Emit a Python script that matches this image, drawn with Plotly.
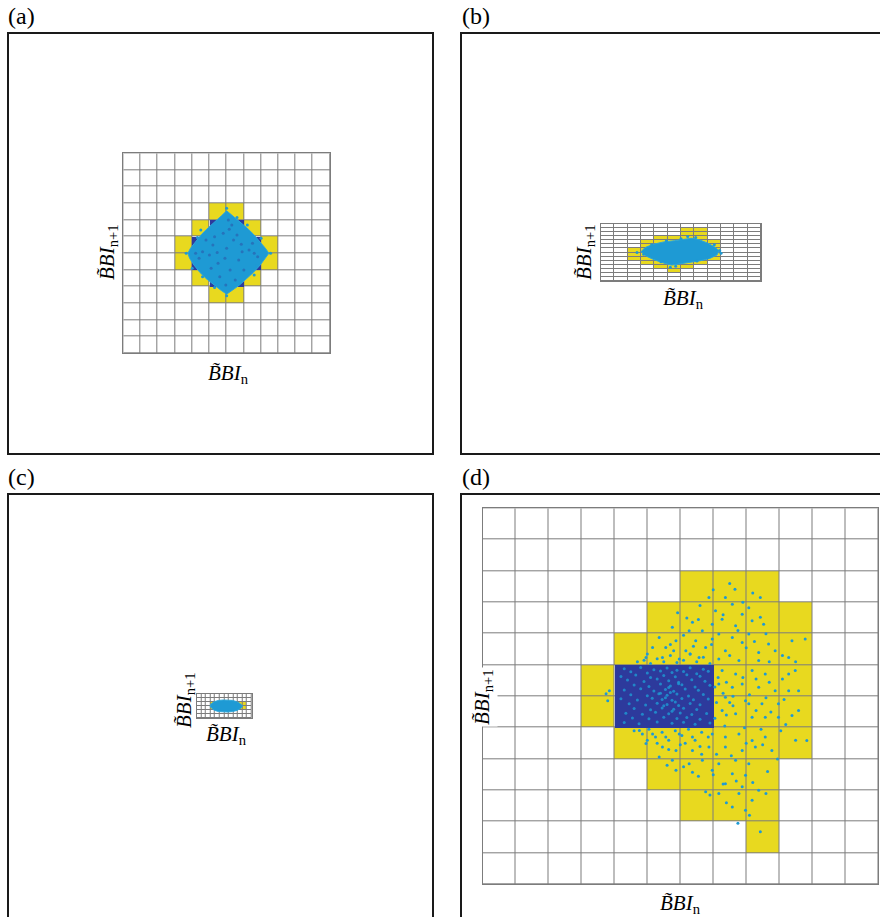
import plotly.graph_objects as go

W, H = 880, 917
YELLOW = '#E8D91F'
NAVY = '#2D3A9C'
CYAN = '#1E9AD4'
SPECK = '#2A62B0'
GRIDC = '#7c7c7c'
FONT = 'Times New Roman, Liberation Serif, DejaVu Serif, serif'

# ---------------- data ----------------
# cell colouring, rows counted from the top, listing column indices
a_dims = (12, 12)
a_yellow = {3: [5, 6], 4: [4, 7], 5: [3, 8], 6: [3, 8], 7: [4, 7], 8: [5, 6]}
a_navy = {4: [5, 6], 5: [4, 5, 6, 7], 6: [4, 5, 6, 7], 7: [5, 6]}
a_cloud_x = [6.0, 6.35, 6.75, 7.15, 7.55, 7.95, 8.25, 8.45, 8.25, 7.95, 7.55, 7.15, 6.75, 6.35,
             6.0, 5.65, 5.25, 4.85, 4.45, 4.1, 3.85, 3.75, 3.9, 4.2, 4.55, 4.95, 5.35, 5.7, 6.0]
a_cloud_y = [8.55, 8.25, 7.9, 7.55, 7.15, 6.7, 6.3, 6.0, 5.7, 5.3, 4.85, 4.45, 4.1, 3.8,
             3.55, 3.8, 4.1, 4.45, 4.85, 5.3, 5.7, 6.0, 6.3, 6.7, 7.15, 7.55, 7.9, 8.25, 8.55]
a_speck_x = [5.2, 5.8, 6.4, 6.9, 5.5, 6.2, 6.7, 5.0, 6.0, 4.6, 7.3, 6.3, 5.6, 6.5, 7.6, 4.4,
             5.9, 6.6, 5.3, 7.0, 5.1, 6.1, 5.95, 4.8, 7.5, 5.45, 6.85, 4.2, 7.8, 6.15]
a_speck_y = [6.5, 7.2, 6.8, 6.1, 5.4, 5.0, 5.6, 5.9, 6.3, 6.1, 6.2, 7.7, 4.6, 4.4, 6.0, 5.7,
             5.7, 7.1, 7.0, 5.0, 5.1, 8.0, 4.1, 6.8, 6.6, 6.05, 6.55, 6.0, 5.8, 7.45]
a_fuzz_x = [6.0, 8.55, 6.0, 3.65, 7.2, 4.5, 4.6, 7.6, 8.0, 4.0, 6.6, 5.3, 7.75, 4.3]
a_fuzz_y = [8.7, 6.0, 3.45, 6.0, 7.7, 7.4, 4.6, 4.7, 6.9, 5.1, 8.15, 3.95, 5.25, 6.95]

b_dims = (12, 14)
b_yellow = {1: [6, 7], 2: [6, 7], 3: [4, 5, 6, 7], 4: [3, 4, 5, 6, 7, 8], 5: [3, 4, 5, 6, 7, 8],
            6: [2, 3, 4, 5, 6, 7, 8], 7: [2, 3, 4, 5, 6, 7, 8], 8: [2, 3, 4, 5, 6, 7, 8],
            9: [3, 4, 5, 6, 7], 10: [4, 5, 6], 11: [5]}
b_navy = {6: [4, 5, 6, 7], 7: [4, 5, 6, 7]}
b_cloud_x = [3.0, 3.3, 3.9, 4.7, 5.5, 6.2, 6.8, 7.4, 8.0, 8.5, 8.85, 8.7, 8.2, 7.5, 6.7, 5.9,
             5.3, 4.7, 4.0, 3.4, 3.0]
b_cloud_y = [7.2, 8.2, 9.0, 9.6, 9.9, 10.3, 10.5, 10.1, 9.3, 8.4, 7.4, 6.4, 5.6, 5.0, 4.6, 4.2,
             3.9, 4.4, 5.2, 6.1, 7.2]
b_fuzz_x = [2.7, 3.2, 3.8, 4.9, 6.5, 7.1, 8.9, 9.0, 8.0, 7.2, 5.2, 4.5, 3.5, 8.5, 6.0, 5.6]
b_fuzz_y = [7.0, 6.6, 8.9, 9.8, 10.9, 10.7, 7.5, 6.8, 5.8, 4.9, 3.4, 4.7, 7.9, 8.9, 10.4, 3.6]

c_dims = (12, 6)
c_yellow = {2: [3, 4, 5, 6, 7, 8, 9, 10], 3: [3, 4, 5, 6, 7, 8, 9, 10]}
c_navy = {}
c_cloud_x = [2.9, 3.2, 3.9, 4.8, 5.8, 6.8, 7.8, 8.7, 9.5, 10.0, 9.6, 8.8, 7.8, 6.8, 5.8,
             4.8, 3.9, 3.3, 2.9]
c_cloud_y = [3.0, 3.6, 4.1, 4.4, 4.5, 4.5, 4.4, 4.1, 3.6, 3.0, 2.4, 1.9, 1.6, 1.5, 1.5,
             1.6, 1.9, 2.4, 3.0]

d_dims = (12, 12)
d_yellow = {2: [6, 7, 8], 3: [5, 6, 7, 8, 9], 4: [4, 5, 6, 7, 8, 9], 5: [3, 7, 8, 9],
            6: [3, 7, 8, 9], 7: [4, 5, 6, 7, 8, 9], 8: [5, 6, 7, 8], 9: [6, 7, 8], 10: [8]}
d_navy = {5: [4, 5, 6], 6: [4, 5, 6]}
# dense speckle inside the dark rectangle
d_core_x = [4.3, 4.8, 5.2, 5.6, 5.9, 6.3, 6.7, 4.5, 5.0, 5.4, 5.75, 6.1, 6.5, 6.85,
            4.2, 4.65, 5.1, 5.5, 5.85, 6.2, 6.6, 4.4, 4.9, 5.3, 5.65, 5.95, 6.35, 6.75,
            4.6, 5.05, 5.4, 5.7, 6.05, 6.45, 6.9, 4.3, 4.8, 5.2, 5.55, 5.8, 6.15, 6.55,
            4.5, 5.0, 5.35, 5.6, 5.9, 6.25, 6.7, 4.2, 4.7, 5.15, 5.45, 5.75, 6.05, 6.4, 6.85,
            4.45, 4.95, 5.3, 5.6, 5.95, 6.3, 6.6, 4.6, 5.1, 5.45, 5.8, 6.1, 6.5,
            4.35, 4.85, 5.25, 5.65, 6.0, 6.35, 6.8, 4.55, 5.05, 5.5, 5.9, 6.2, 6.6,
            4.3, 4.75, 5.3, 5.75, 6.1, 6.45, 6.9, 5.55, 5.7, 5.85, 5.5, 5.65, 5.95, 5.4, 5.75]
d_core_y = [6.88, 6.92, 6.85, 6.9, 6.83, 6.91, 6.86, 6.78, 6.74, 6.81, 6.76, 6.79, 6.72, 6.8,
            6.63, 6.68, 6.6, 6.66, 6.62, 6.69, 6.64, 6.52, 6.47, 6.55, 6.5, 6.45, 6.53, 6.48,
            6.36, 6.31, 6.39, 6.33, 6.37, 6.3, 6.35, 6.2, 6.24, 6.17, 6.22, 6.16, 6.23, 6.19,
            6.05, 6.02, 6.08, 6.03, 6.07, 6.01, 6.06, 5.92, 5.88, 5.94, 5.9, 5.87, 5.93, 5.89, 5.91,
            5.76, 5.72, 5.78, 5.74, 5.71, 5.77, 5.73, 5.61, 5.57, 5.63, 5.59, 5.62, 5.58,
            5.46, 5.43, 5.49, 5.44, 5.47, 5.42, 5.45, 5.31, 5.28, 5.33, 5.29, 5.32, 5.27,
            5.16, 5.12, 5.18, 5.14, 5.17, 5.11, 5.15, 5.95, 6.12, 5.82, 5.7, 6.28, 6.4, 6.1, 5.52]
d_pts_x = [7.66, 6.87, 7.37, 8.43, 7.58, 8.08, 5.92, 7.07, 7.88, 8.43, 7.27, 6.37, 6.97, 7.68,
           8.18, 8.53, 5.76, 6.27, 6.67, 7.17, 7.58, 8.08, 5.36, 5.87, 6.47, 6.97, 7.88, 8.68,
           9.39, 9.79, 5.16, 5.56, 6.17, 6.77, 7.37, 8.38, 8.88, 4.96, 5.46, 5.97, 6.57, 7.17,
           7.78, 8.38, 9.29,
           7.27, 7.68, 8.18, 8.58, 9.29, 9.49, 7.17, 7.58, 7.88, 8.38, 8.88, 7.37, 7.98, 8.08,
           8.48, 8.98, 9.29, 9.59, 9.39, 7.27, 7.68, 8.18, 8.58, 8.98, 9.84, 9.59, 3.75, 3.80,
           3.85,
           4.76, 5.16, 5.56, 5.97, 6.37, 6.97, 7.37, 7.78, 8.18, 8.58, 4.96, 5.46, 5.87, 6.37,
           6.87, 7.37, 7.88, 8.28, 8.78, 5.36, 5.76, 6.27, 6.67, 7.17, 7.68, 8.08, 5.87, 6.37,
           6.97, 7.58, 7.98, 7.37, 7.88, 8.38, 6.77, 7.17, 7.78, 8.18, 7.58, 7.98, 8.43,
           4.7, 4.9, 5.1, 5.3, 5.5, 5.7, 5.9, 6.1, 6.3, 6.5, 6.7, 6.9, 5.0, 5.8, 6.4,
           4.6, 4.85, 5.05, 5.25, 5.45, 5.65, 5.85, 6.05, 6.25, 6.45, 6.65, 6.85, 5.3, 6.0, 6.6,
           7.05, 7.1, 7.05, 7.15, 7.3, 7.4, 7.5, 7.6,
           6.2, 6.6, 7.0, 7.5, 7.9, 8.2, 6.1, 6.55, 7.3, 7.75, 8.25, 8.6, 5.7, 6.3, 6.95, 7.5,
           8.0, 8.7, 9.1, 9.5, 7.9, 8.3, 8.7, 9.1, 7.4, 8.1, 8.6, 9.15, 7.6, 8.3, 8.75, 9.2,
           7.35, 7.95, 8.45, 9.05, 9.5, 5.0, 5.65, 6.15, 6.65, 7.1, 7.55, 8.0, 8.5, 8.95, 5.6,
           6.1, 6.55, 7.0, 7.3, 7.7, 8.2, 8.65, 6.9, 7.4, 8.1, 8.6, 7.75]
d_pts_y = [9.42, 9.15, 9.15, 9.15, 8.94, 8.83, 8.67, 8.73, 8.62, 8.52, 8.46, 8.36, 8.30, 8.25,
           8.41, 8.30, 8.20, 8.09, 8.09, 7.99, 7.88, 7.99, 7.88, 7.77, 7.77, 7.83, 7.72, 7.67,
           7.77, 7.83, 7.56, 7.56, 7.45, 7.56, 7.45, 7.40, 7.45, 7.24, 7.24, 7.19, 7.24, 7.19,
           7.14, 7.14, 7.24,
           6.82, 6.71, 6.82, 6.71, 6.71, 6.82, 6.39, 6.29, 6.39, 6.29, 6.18, 5.97, 5.86, 5.76,
           5.76, 5.76, 6.18, 5.55, 5.39, 5.55, 5.44, 5.33, 5.33, 5.33, 4.59, 6.18, 6.08, 5.86,
           6.18,
           4.91, 4.80, 4.70, 4.80, 4.70, 4.80, 4.70, 4.80, 4.59, 4.70, 4.49, 4.38, 4.27, 4.27,
           4.38, 4.38, 4.27, 4.38, 4.27, 4.06, 3.96, 3.85, 3.96, 3.85, 3.96, 3.85, 3.64, 3.58,
           3.64, 3.53, 3.48, 3.21, 3.11, 3.00, 2.95, 2.90, 2.90, 2.68, 2.47, 2.36, 1.68,
           7.1, 7.15, 7.05, 7.2, 7.1, 7.3, 7.08, 7.15, 7.35, 7.1, 7.25, 7.05, 7.35, 7.45, 7.6,
           4.9, 4.8, 4.95, 4.7, 4.85, 4.6, 4.9, 4.75, 4.95, 4.6, 4.85, 4.7, 4.5, 4.45, 4.4,
           5.3, 5.8, 6.3, 6.6, 6.1, 5.4, 5.8, 6.0,
           8.5, 8.9, 9.4, 9.6, 9.0, 9.3, 7.95, 8.45, 8.6, 8.1, 7.75, 8.0, 7.65, 7.35, 7.65, 7.3,
           7.55, 7.1, 7.3, 7.1, 6.6, 6.55, 6.45, 6.55, 6.45, 6.05, 5.95, 5.9, 5.7, 5.55, 5.5, 5.1,
           5.05, 5.0, 4.95, 4.9, 4.6, 4.6, 4.3, 4.5, 4.15, 4.15, 4.1, 4.5, 4.45, 4.0, 3.8,
           3.75, 3.45, 3.5, 3.2, 3.3, 3.25, 3.6, 2.85, 2.6, 2.2, 2.9, 1.95]

panel_letters = ['(a)', '(b)', '(c)', '(d)']
x_label = '<i>B̃BI</i><sub>n</sub>'
y_label = '<i>B̃BI</i><sub>n+1</sub>'

# ---------------- layout geometry (pixels) ----------------
grids = {
    'a': (123.3, 330.0, 153.3, 353.3),
    'b': (601.0, 761.0, 224.0, 281.0),
    'c': (196.7, 251.7, 694.0, 718.0),
    'd': (482.5, 878.0, 508.3, 884.3),
}
boxes = [(8, 433, 33, 454), (461, 884, 33, 454), (8, 433, 494, 921), (461, 884, 494, 921)]
letter_pos = [(6, 1), (460, 1), (6, 462), (460, 462)]
xlab_pos = {'a': (228, 374), 'b': (683, 299), 'c': (226, 735), 'd': (680, 904)}
ylab_pos = {'a': (108, 252), 'b': (585, 252), 'c': (185, 700), 'd': (483, 697)}


def px(x):
    return x / W


def py(y):
    return 1 - y / H


def cells_matrix(dims, cells, fill):
    ncols, nrows = dims
    z = [[fill] * ncols for _ in range(nrows)]
    for r, cols in cells.items():
        for c in cols:
            z[nrows - 1 - r][c] = 1
    return z


fig = go.Figure()
panels = [
    ('a', a_dims, a_yellow, a_navy),
    ('b', b_dims, b_yellow, b_navy),
    ('c', c_dims, c_yellow, c_navy),
    ('d', d_dims, d_yellow, d_navy),
]
clouds = {'a': (a_cloud_x, a_cloud_y), 'b': (b_cloud_x, b_cloud_y), 'c': (c_cloud_x, c_cloud_y)}
fuzz = {'a': (a_fuzz_x, a_fuzz_y), 'b': (b_fuzz_x, b_fuzz_y)}


def dots(x, y, xa, ya, color, size, opacity=1.0):
    return go.Scatter(x=x, y=y, xaxis=xa, yaxis=ya, mode='markers',
                      marker=dict(color=color, size=size, opacity=opacity, line=dict(width=0)),
                      hoverinfo='skip', showlegend=False)


for i, (key, dims, yel, nav) in enumerate(panels):
    n = i + 1
    xa = 'x' if n == 1 else f'x{n}'
    ya = 'y' if n == 1 else f'y{n}'
    ncols, nrows = dims
    xc = [c + 0.5 for c in range(ncols)]
    yc = [r + 0.5 for r in range(nrows)]
    fig.add_trace(go.Heatmap(
        x=xc, y=yc, z=cells_matrix(dims, yel, 0), xaxis=xa, yaxis=ya, zmin=0, zmax=1,
        colorscale=[[0, 'white'], [0.5, 'white'], [0.5, YELLOW], [1, YELLOW]],
        showscale=False, xgap=1, ygap=1, hoverinfo='skip'))
    if nav:
        fig.add_trace(go.Heatmap(
            x=xc, y=yc, z=cells_matrix(dims, nav, None), xaxis=xa, yaxis=ya, zmin=0, zmax=1,
            colorscale=[[0, NAVY], [1, NAVY]], showscale=False, hoverinfo='skip'))
    if key in clouds:
        cx, cy = clouds[key]
        fig.add_trace(go.Scatter(
            x=cx, y=cy, xaxis=xa, yaxis=ya, mode='lines', fill='toself',
            fillcolor=CYAN, line=dict(color='#2BA6DA', width=1), hoverinfo='skip',
            showlegend=False))
        if key in fuzz:
            fx, fy = fuzz[key]
            fig.add_trace(dots(fx, fy, xa, ya, CYAN, 3))
        if key == 'a':
            fig.add_trace(dots(a_speck_x, a_speck_y, xa, ya, SPECK, 3, 0.7))
    else:
        fig.add_trace(dots(d_core_x, d_core_y, xa, ya, CYAN, 3, 0.8))
        fig.add_trace(dots(d_pts_x, d_pts_y, xa, ya, CYAN, 3))

    gx0, gx1, gy0, gy1 = grids[key]
    axis_common = dict(showgrid=False, zeroline=False, showticklabels=False, ticks='',
                       showline=True, mirror=True, linecolor=GRIDC, linewidth=1,
                       fixedrange=True)
    fig.layout[f'xaxis{"" if n == 1 else n}'] = dict(
        domain=[px(gx0), px(gx1)], range=[0, ncols], anchor=ya, **axis_common)
    fig.layout[f'yaxis{"" if n == 1 else n}'] = dict(
        domain=[py(gy1), py(gy0)], range=[0, nrows], anchor=xa, **axis_common)

shapes = []
for (x0, x1, y0, y1) in boxes:
    shapes.append(dict(type='rect', xref='paper', yref='paper',
                       x0=px(x0), x1=px(x1), y0=py(y1), y1=py(y0),
                       line=dict(color='#1a1a1a', width=2), fillcolor='rgba(0,0,0,0)',
                       layer='below'))

ann = []
for letter, (lx, ly) in zip(panel_letters, letter_pos):
    ann.append(dict(text=letter, x=px(lx), y=py(ly), xref='paper', yref='paper',
                    xanchor='left', yanchor='top', showarrow=False,
                    font=dict(family=FONT, size=24, color='black')))
for key in 'abcd':
    lx, ly = xlab_pos[key]
    ann.append(dict(text=x_label, x=px(lx), y=py(ly), xref='paper', yref='paper',
                    xanchor='center', yanchor='middle', showarrow=False,
                    font=dict(family=FONT, size=21, color='black')))
    lx, ly = ylab_pos[key]
    ann.append(dict(text=y_label, x=px(lx), y=py(ly), xref='paper', yref='paper',
                    xanchor='center', yanchor='middle', showarrow=False, textangle=-90,
                    bgcolor='white' if key == 'd' else 'rgba(0,0,0,0)',
                    font=dict(family=FONT, size=21, color='black')))

fig.update_layout(width=W, height=H, margin=dict(l=0, r=0, t=0, b=0),
                  paper_bgcolor='white', plot_bgcolor=GRIDC, showlegend=False,
                  font=dict(family=FONT),
                  shapes=shapes, annotations=ann)

fig.write_html('out.html')
